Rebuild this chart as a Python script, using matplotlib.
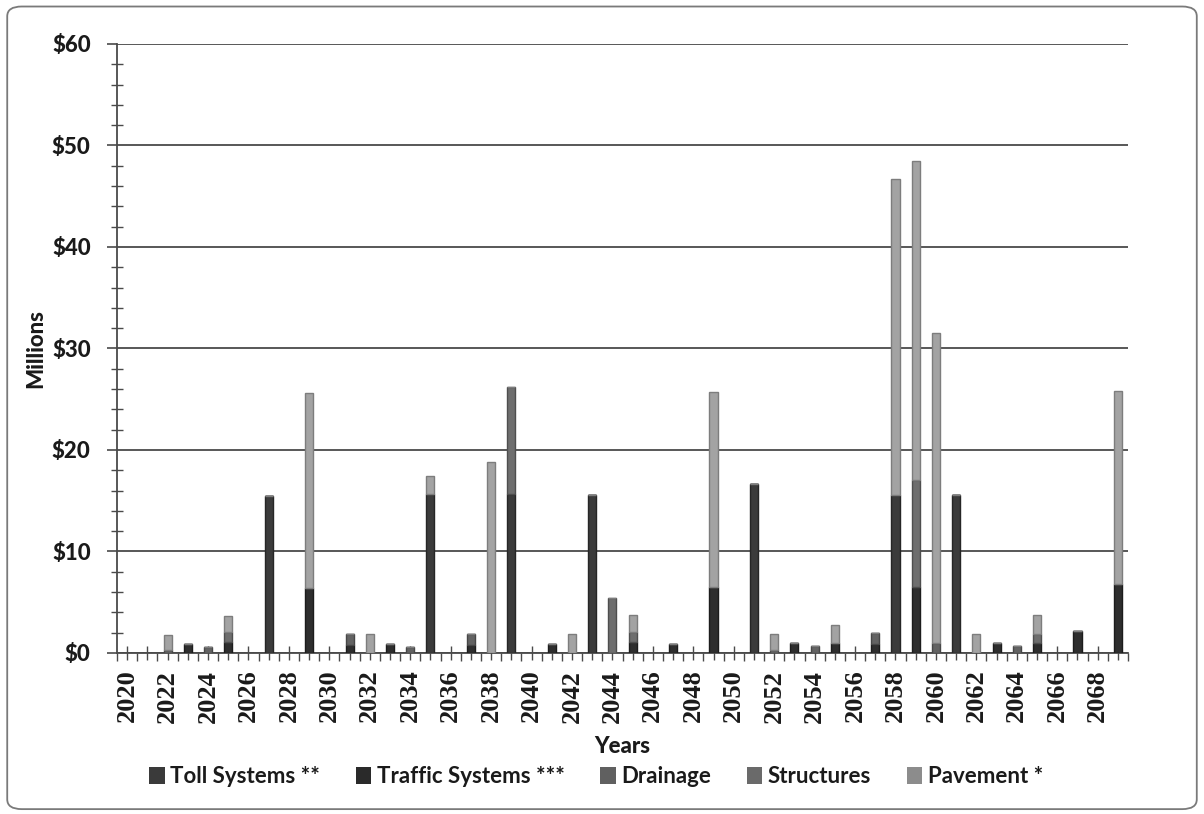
import matplotlib
matplotlib.use("Agg")
import matplotlib.pyplot as plt
from matplotlib.patches import FancyBboxPatch, Patch
from matplotlib.ticker import MultipleLocator, FuncFormatter
import numpy as np

# Annual maintenance spending by asset class, $ millions
years = list(range(2020, 2070))

toll_systems = [0, 0, 0, 0, 0, 0, 0, 15.5, 0, 0,
                0, 0, 0, 0, 0, 15.7, 0, 0, 0, 15.7,
                0, 0, 0, 15.55, 0, 0, 0, 0, 0, 0,
                0, 16.6, 0, 0, 0, 0, 0, 0, 15.6, 0,
                0, 15.6, 0, 0, 0, 0, 0, 0, 0, 0]

traffic_systems = [0, 0, 0, 0.85, 0, 1.1, 0, 0, 0, 6.4,
                   0, 0.8, 0, 0.85, 0, 0, 0, 0.8, 0, 0,
                   0, 0.85, 0, 0, 0, 1.1, 0, 0.85, 0, 6.5,
                   0, 0, 0, 0.95, 0, 1.0, 0, 0.9, 0, 6.5,
                   0, 0, 0, 0.95, 0, 1.0, 0, 2.15, 0, 6.8]

drainage = [0, 0, 0.3, 0, 0.55, 0, 0, 0, 0, 0,
            0, 1.05, 0, 0, 0.55, 0, 0, 1.05, 0, 0,
            0, 0, 0, 0, 0, 0, 0, 0, 0, 0,
            0, 0, 0.3, 0, 0.7, 0, 0, 1.1, 0, 0,
            1.0, 0, 0, 0, 0.7, 0, 0, 0, 0, 0]

structures = [0, 0, 0, 0, 0, 1.0, 0, 0, 0, 0,
              0, 0, 0, 0, 0, 0, 0, 0, 0, 10.5,
              0, 0, 0, 0, 5.4, 1.0, 0, 0, 0, 0,
              0, 0, 0, 0, 0, 0, 0, 0, 0, 10.5,
              0, 0, 0, 0, 0, 0.9, 0, 0, 0, 0]

pavement = [0, 0, 1.5, 0, 0, 1.5, 0, 0, 0, 19.2,
            0, 0, 1.85, 0, 0, 1.7, 0, 0, 18.85, 0,
            0, 0, 1.85, 0, 0, 1.6, 0, 0, 0, 19.2,
            0, 0, 1.6, 0, 0, 1.8, 0, 0, 31.1, 31.5,
            30.5, 0, 1.9, 0, 0, 1.8, 0, 0, 0, 19.0]

series_names = ["Toll Systems **", "Traffic Systems ***", "Drainage",
                "Structures", "Pavement *"]
series_values = [toll_systems, traffic_systems, drainage, structures, pavement]
fill_colors = ["#3b3b3b", "#2e2e2e", "#636363", "#6e6e6e", "#a3a3a3"]
edge_colors = ["#262626", "#1c1c1c", "#474747", "#4e4e4e", "#7d7d7d"]
legend_colors = ["#3a3a3a", "#2a2a2a", "#606060", "#6a6a6a", "#8c8c8c"]

fig = plt.figure(figsize=(12.04, 8.14), dpi=100)
fig.patch.set_facecolor("white")

# rounded chart-area frame
frame = FancyBboxPatch((0.006, 0.006), 0.988, 0.986,
                       boxstyle="round,pad=0,rounding_size=0.012",
                       transform=fig.transFigure, facecolor="none",
                       edgecolor="#7a7a7a", linewidth=1.3, zorder=0)
fig.patches.append(frame)

ax = fig.add_axes([0.0972, 0.1978, 0.8397, 0.7482])

x = np.arange(len(years))
bottom = np.zeros(len(years))
for vals, fc, ec in zip(series_values, fill_colors, edge_colors):
    v = np.array(vals, dtype=float)
    ax.bar(x, v, width=0.4, bottom=bottom, color=fc, edgecolor=ec,
           linewidth=1.0, zorder=3)
    bottom += v

ax.set_xlim(-0.5, len(years) - 0.5)
ax.set_ylim(0, 60)

# y axis
ax.yaxis.set_major_locator(MultipleLocator(10))
ax.yaxis.set_minor_locator(MultipleLocator(2))
ax.yaxis.set_major_formatter(FuncFormatter(lambda v, p: f"${v:.0f}"))
ax.yaxis.grid(True, which="major", color="#4a4a4a", linewidth=1.3, zorder=1)
ax.tick_params(axis="y", which="major", direction="out", length=7,
               width=1.2, color="#4a4a4a", pad=12)
ax.tick_params(axis="y", which="minor", direction="inout", length=8,
               width=1.0, color="#4a4a4a")
for lab in ax.get_yticklabels():
    lab.set_fontfamily("Lato")
    lab.set_fontweight("black")
    lab.set_fontsize(16)
    lab.set_color("#1a1a1a")

# x axis: labels every second year, ticks at centres and boundaries
ax.set_xticks(x)
ax.set_xticklabels([str(y) if (y - years[0]) % 2 == 0 else "" for y in years],
                   rotation=90, fontfamily="Liberation Serif",
                   fontweight="bold", fontsize=19, color="#1a1a1a")
ax.set_xticks(np.arange(len(years) + 1) - 0.5, minor=True)
ax.tick_params(axis="x", which="major", direction="inout", length=10,
               width=1.0, color="#4a4a4a", pad=7)
ax.tick_params(axis="x", which="minor", direction="out", length=6,
               width=1.0, color="#4a4a4a")

for side in ("top", "right"):
    ax.spines[side].set_visible(False)
for side in ("left", "bottom"):
    ax.spines[side].set_color("#4a4a4a")
    ax.spines[side].set_linewidth(1.3)
ax.set_facecolor("none")

ax.set_xlabel("Years", fontfamily="Lato", fontweight="black", fontsize=16,
              color="#1a1a1a", labelpad=10)
ax.set_ylabel("Millions", fontfamily="Lato", fontweight="black", fontsize=16,
              color="#1a1a1a", labelpad=4)

handles = [Patch(facecolor=c, edgecolor="none") for c in legend_colors]
leg = fig.legend(handles, series_names, loc="center",
                 bbox_to_anchor=(0.495, 0.046), ncol=5, frameon=False,
                 prop={"family": "Lato", "weight": "bold", "size": 16},
                 handlelength=0.7, handleheight=0.8, handletextpad=0.25,
                 columnspacing=1.6)
for t in leg.get_texts():
    t.set_color("#1a1a1a")

fig.savefig("out.png", dpi=100, facecolor="white")
